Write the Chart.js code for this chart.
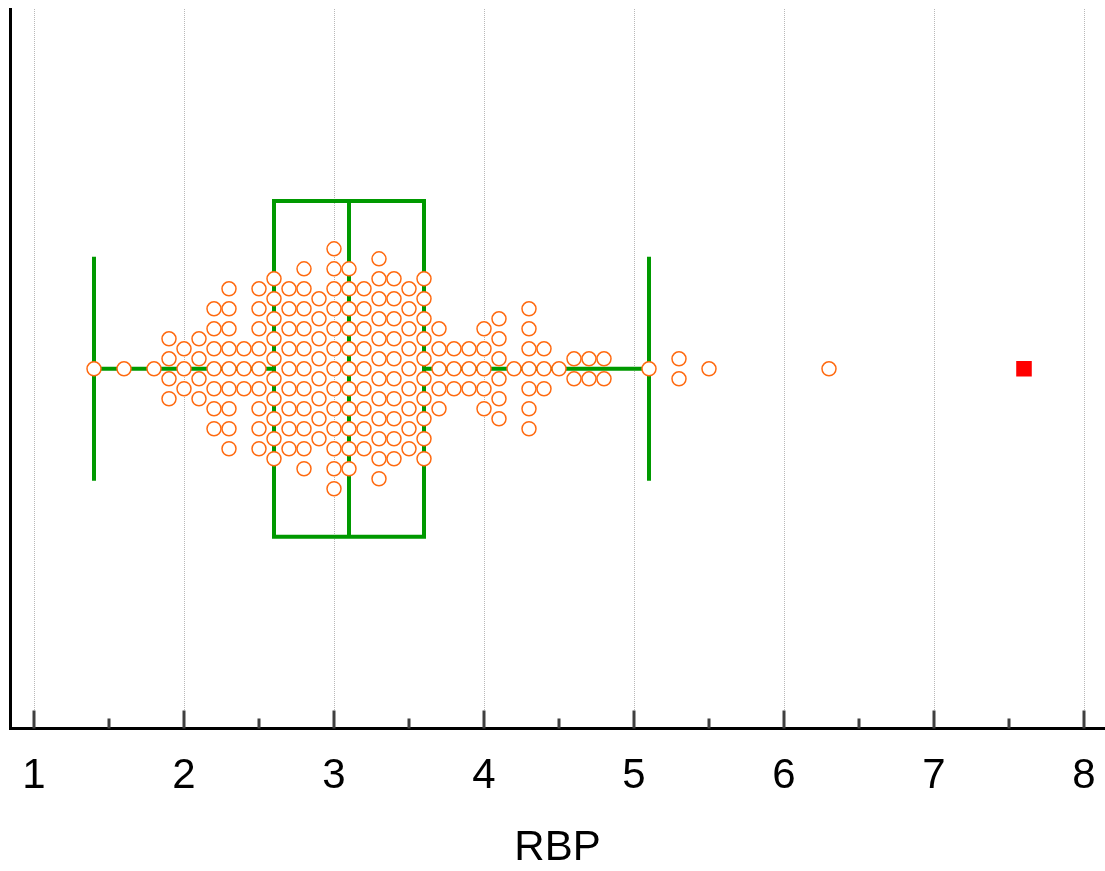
<!DOCTYPE html>
<html>
<head>
<meta charset="utf-8">
<script src="https://cdn.jsdelivr.net/npm/chart.js@4/dist/chart.umd.min.js"></script>
<style>
html, body { margin: 0; padding: 0; background: #fff; overflow: hidden; }
canvas { display: block; }
</style>
</head>
<body>
<canvas id="chart-rbp" width="1105" height="871"></canvas>
<script>
// RBP values (0.1 steps) and how many observations fall on each one
var rbpValues = [1.4, 1.6, 1.8, 1.9, 2.0, 2.1, 2.2, 2.3, 2.4, 2.5, 2.6, 2.7, 2.8, 2.9, 3.0, 3.1, 3.2, 3.3, 3.4, 3.5, 3.6, 3.7, 3.8, 3.9, 4.0, 4.1, 4.2, 4.3, 4.4, 4.5, 4.6, 4.7, 4.8, 5.1, 5.3, 5.5, 6.3];
var rbpCounts = [1, 1, 1, 4, 3, 4, 7, 9, 3, 9, 10, 9, 11, 8, 13, 11, 9, 12, 10, 9, 10, 5, 3, 3, 5, 6, 1, 7, 3, 1, 2, 2, 2, 1, 2, 1, 1];
var boxStats = [1.4, 2.6, 3.1, 3.6, 5.1]; // whisker low, Q1, median, Q3, whisker high
var outliers = [7.6];
var xTicks = [1, 2, 3, 4, 5, 6, 7, 8];

var green = '#009900';
var orange = '#ff6a10';

// stack the dots of each value around the centre line
var swarm = [];
for (var i = 0; i < rbpValues.length; i++) {
    for (var k = 0; k < rbpCounts[i]; k++) {
        swarm.push({ x: rbpValues[i], y: k - (rbpCounts[i] - 1) / 2 });
    }
}

var boxPlot = {
    id: 'boxPlot',
    beforeDatasetsDraw: function(chart) {
        var ctx = chart.ctx, xs = chart.scales.x, ys = chart.scales.y;
        var px = function(v) { return xs.getPixelForValue(v); };
        var yc = ys.getPixelForValue(0);
        var bt = ys.getPixelForValue(8.4), bb = ys.getPixelForValue(-8.4);
        var ct = ys.getPixelForValue(5.6), cb = ys.getPixelForValue(-5.6);
        ctx.save();
        ctx.strokeStyle = green;
        ctx.lineWidth = 4;
        ctx.beginPath();
        // whiskers
        ctx.moveTo(px(boxStats[0]), yc); ctx.lineTo(px(boxStats[1]), yc);
        ctx.moveTo(px(boxStats[3]), yc); ctx.lineTo(px(boxStats[4]), yc);
        ctx.moveTo(px(boxStats[0]), ct); ctx.lineTo(px(boxStats[0]), cb);
        ctx.moveTo(px(boxStats[4]), ct); ctx.lineTo(px(boxStats[4]), cb);
        // box + median
        ctx.rect(px(boxStats[1]), bt, px(boxStats[3]) - px(boxStats[1]), bb - bt);
        ctx.moveTo(px(boxStats[2]), bt); ctx.lineTo(px(boxStats[2]), bb);
        ctx.stroke();

        // inward tick marks on the x axis
        var base = chart.chartArea.bottom;
        ctx.strokeStyle = '#404040';
        ctx.lineWidth = 3;
        ctx.beginPath();
        xTicks.forEach(function(t) {
            ctx.moveTo(px(t), base); ctx.lineTo(px(t), base - 18);
            if (t < 8) { ctx.moveTo(px(t + 0.5), base); ctx.lineTo(px(t + 0.5), base - 10); }
        });
        ctx.stroke();
        ctx.restore();
    }
};

var ctx = document.getElementById('chart-rbp').getContext('2d');
var myChart = new Chart(ctx, {
    type: 'scatter',
    data: {
        datasets: [{
            label: 'RBP',
            data: swarm,
            pointRadius: 7,
            pointHoverRadius: 7,
            pointBorderWidth: 1.5,
            borderColor: orange,
            backgroundColor: '#ffffff'
        }, {
            label: 'outlier',
            data: outliers.map(function(v) { return { x: v, y: 0 }; }),
            pointStyle: 'rect',
            pointRadius: 11,
            pointBorderWidth: 0,
            borderColor: '#ff0000',
            backgroundColor: '#ff0000'
        }]
    },
    options: {
        responsive: false,
        animation: false,
        layout: { autoPadding: false, padding: { top: 9, left: 10, right: 0, bottom: 0 } },
        plugins: {
            legend: { display: false },
            tooltip: { enabled: false }
        },
        scales: {
            x: {
                type: 'linear',
                min: 0.84,
                max: 8.14,
                afterBuildTicks: function(axis) {
                    axis.ticks = xTicks.map(function(v) { return { value: v }; });
                },
                afterFit: function(axis) {
                    axis.paddingLeft = 0;
                    axis.paddingRight = 0;
                },
                ticks: {
                    padding: 23,
                    color: '#000',
                    font: { family: 'Liberation Sans, Arial, sans-serif', size: 42 }
                },
                grid: { color: '#b8b8b8', lineWidth: 1, drawTicks: false },
                border: { display: true, color: '#000', width: 3, dash: [1, 1] },
                title: {
                    display: true,
                    text: 'RBP',
                    color: '#000',
                    font: { family: 'Liberation Sans, Arial, sans-serif', size: 42, lineHeight: 1.095 },
                    padding: { top: 0, bottom: 0 }
                }
            },
            y: {
                type: 'linear',
                min: -18,
                max: 18,
                ticks: { display: false },
                grid: { display: false, drawTicks: false },
                border: { display: true, color: '#000', width: 3 }
            }
        }
    },
    plugins: [boxPlot]
});
</script>
</body>
</html>
